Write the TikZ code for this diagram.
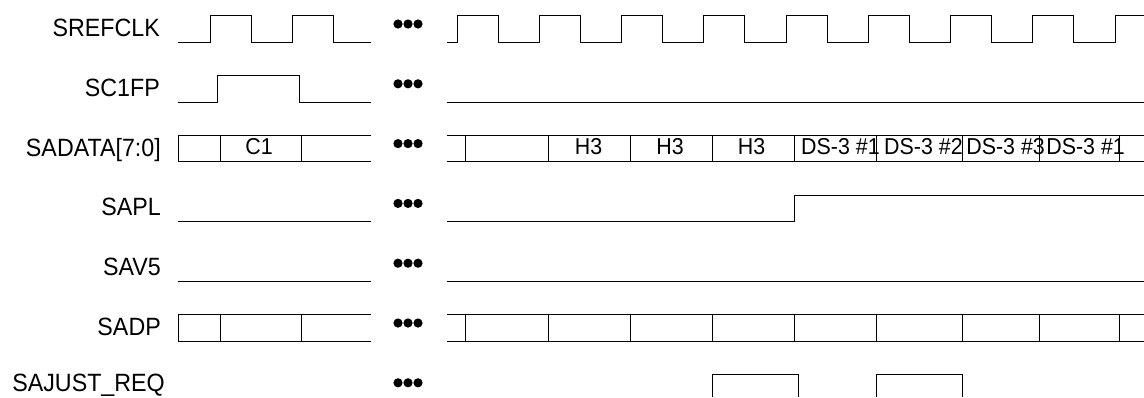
\documentclass[tikz,border=0pt]{standalone}
\usepackage{fontspec}
\setmainfont{Liberation Sans}
\newfontfamily\wavefont[FakeStretch=0.93]{Liberation Sans}
\usepackage{tikz}

\begin{document}
\begin{tikzpicture}[x=1pt,y=-1pt,
  wave/.style={line width=1pt,black},
  siglabel/.style={anchor=base east,inner sep=0pt,font=\wavefont\fontsize{25}{28}\selectfont},
  datalabel/.style={anchor=base,inner sep=0pt,font=\wavefont\fontsize{23}{25}\selectfont}]
  \useasboundingbox (0,0) rectangle (1144,397);
  % signal names
  \foreach \name/\txt/\xe/\yb [count=\i from 0] in {clk/SREFCLK/160/36.5, fp/SC1FP/160/96.3,
      data/{SADATA[7:0]}/161/156.1, pl/SAPL/161/215.9, v5/SAV5/161/275.7, dp/SADP/161/335.5,
      just/{SAJUST\_REQ}/165/391.5}{
    \node[siglabel] (lbl-\name) at (\xe,\yb) {\txt};
    % gap dots
    \foreach \dx in {-10,0,10}
      \fill ({408+\dx},{24+59.8*\i}) circle (4.6);
  }
  % SREFCLK
  \draw[wave] (178,42.3) -| (210,15.7) -| (251,42.3) -| (292,15.7) -| (333,42.3) -- (371,42.3);
  \draw[wave] (447,42.3) foreach \k in {0,...,7}{
      -| ({457+82.25*\k},15.7) -| ({498.1+82.25*\k},42.3) }
    -| (1115,15.7) -- (1144,15.7);
  % SC1FP
  \draw[wave] (178,102.1) -| (217,75.5) -| (299,102.1) -- (371,102.1);
  \draw[wave] (447,102.1) -- (1144,102.1);
  % SADATA[7:0]
  \draw[wave] (371,135.3) -- (178,135.3) -- (178,161.9) -- (371,161.9);
  \draw[wave] (447,135.3) -- (1144,135.3) (447,161.9) -- (1144,161.9);
  \foreach \x in {220,301,465,548.5,630.5,712.3,794.3,876.5,962,1039.5,1119.7}
    \draw[wave] (\x,135.3) -- (\x,161.9);
  \node[datalabel] (c1) at (259,154.5) {C1};
  \node[datalabel] (h3a) at (588.5,154.5) {H3};
  \node[datalabel] (h3b) at (670,154.5) {H3};
  \node[datalabel] (h3c) at (751.5,154.5) {H3};
  \node[datalabel,anchor=base west] (ds1) at (801,154.5) {DS-3 \#1};
  \node[datalabel,anchor=base west] (ds2) at (884,154.5) {DS-3 \#2};
  \node[datalabel,anchor=base west] (ds3) at (966.2,154.5) {DS-3 \#3};
  \node[datalabel,anchor=base west] (ds1b) at (1046.2,154.5) {DS-3 \#1};
  % SAPL
  \draw[wave] (178,221.7) -- (371,221.7);
  \draw[wave] (447,221.7) -| (794.3,195.1) -- (1144,195.1);
  % SAV5
  \draw[wave] (178,281.5) -- (371,281.5);
  \draw[wave] (447,281.5) -- (1144,281.5);
  % SADP
  \draw[wave] (371,314.7) -- (178,314.7) -- (178,341.3) -- (371,341.3);
  \draw[wave] (447,314.7) -- (1144,314.7) (447,341.3) -- (1144,341.3);
  \foreach \x in {220,301,465,548.5,630.5,712.3,794.3,876.5,962,1039.5,1119.7}
    \draw[wave] (\x,314.7) -- (\x,341.3);
  % SAJUST_REQ
  \foreach \a/\b in {712.3/798,876.3/962}
    \draw[wave] (\a,397) |- (\b,374.5) -- (\b,397);
\end{tikzpicture}
\end{document}
